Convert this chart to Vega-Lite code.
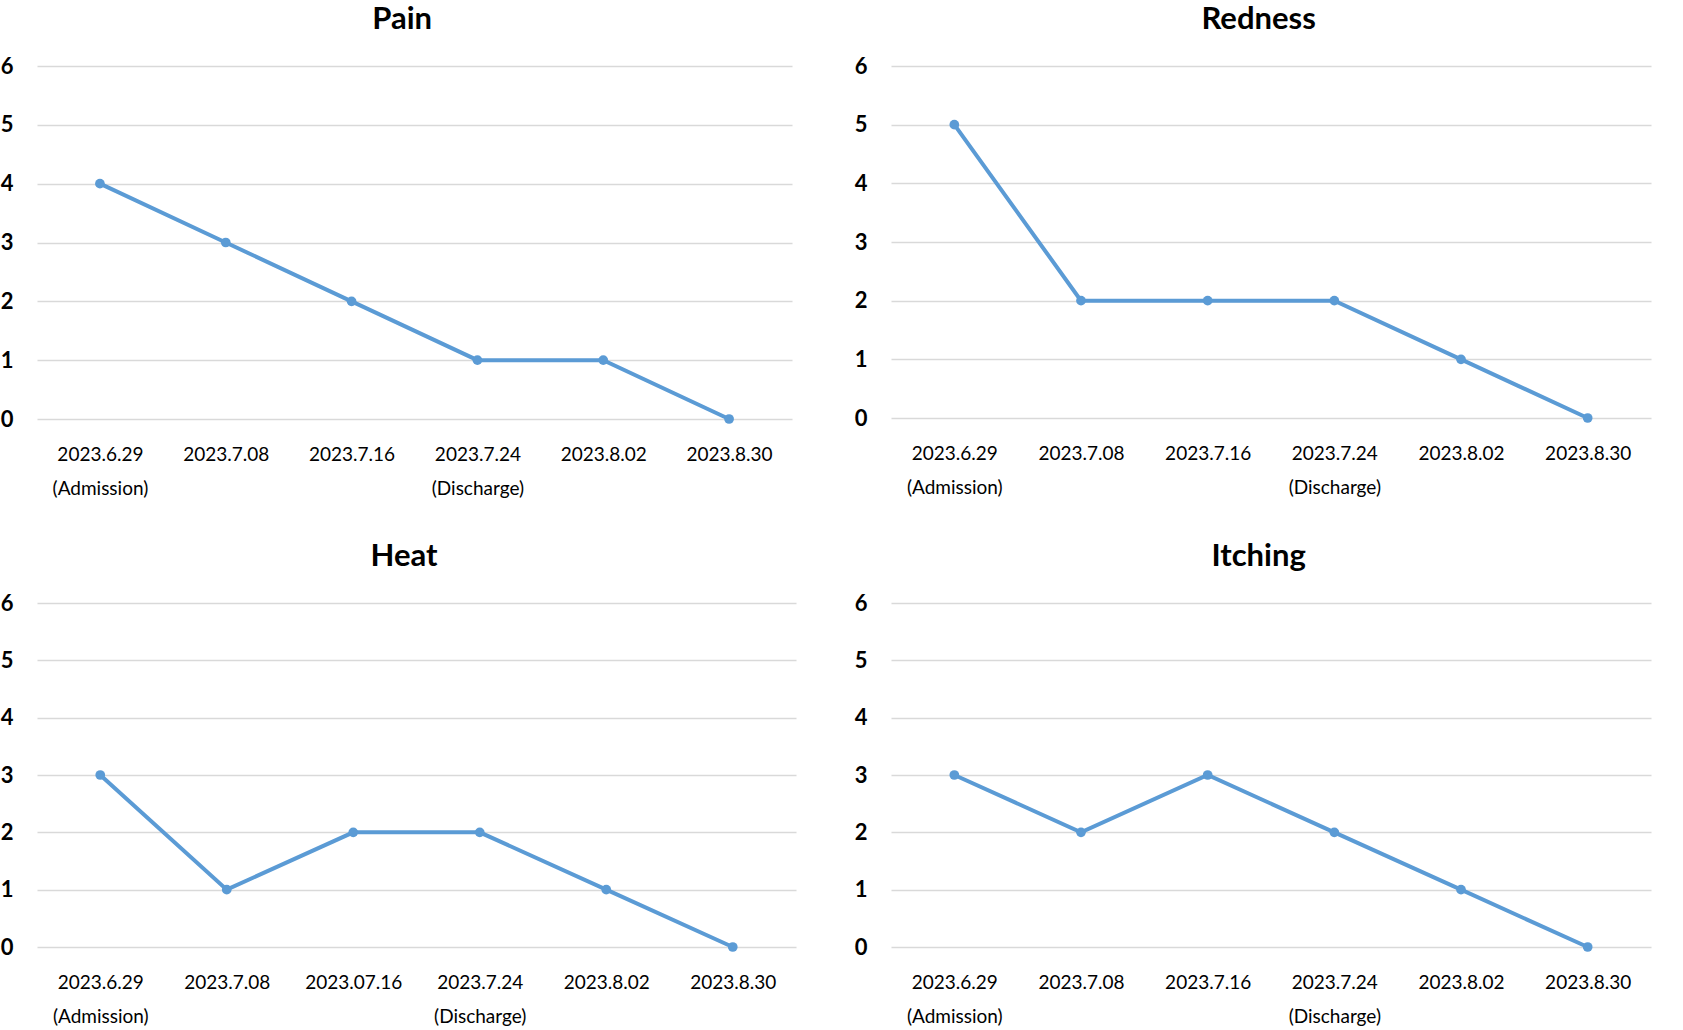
{
  "$schema": "https://vega.github.io/schema/vega-lite/v6.json",
  "padding": {"left": 0, "top": 4, "right": 5, "bottom": 0},
  "background": "white",
  "data": {"values": [
    {"panel": "Pain", "date": "2023.6.29 (Admission)", "value": 4},
    {"panel": "Pain", "date": "2023.7.08", "value": 3},
    {"panel": "Pain", "date": "2023.7.16", "value": 2},
    {"panel": "Pain", "date": "2023.7.24 (Discharge)", "value": 1},
    {"panel": "Pain", "date": "2023.8.02", "value": 1},
    {"panel": "Pain", "date": "2023.8.30", "value": 0},
    {"panel": "Redness", "date": "2023.6.29 (Admission)", "value": 5},
    {"panel": "Redness", "date": "2023.7.08", "value": 2},
    {"panel": "Redness", "date": "2023.7.16", "value": 2},
    {"panel": "Redness", "date": "2023.7.24 (Discharge)", "value": 2},
    {"panel": "Redness", "date": "2023.8.02", "value": 1},
    {"panel": "Redness", "date": "2023.8.30", "value": 0},
    {"panel": "Heat", "date": "2023.6.29 (Admission)", "value": 3},
    {"panel": "Heat", "date": "2023.7.08", "value": 1},
    {"panel": "Heat", "date": "2023.07.16", "value": 2},
    {"panel": "Heat", "date": "2023.7.24 (Discharge)", "value": 2},
    {"panel": "Heat", "date": "2023.8.02", "value": 1},
    {"panel": "Heat", "date": "2023.8.30", "value": 0},
    {"panel": "Itching", "date": "2023.6.29 (Admission)", "value": 3},
    {"panel": "Itching", "date": "2023.7.08", "value": 2},
    {"panel": "Itching", "date": "2023.7.16", "value": 3},
    {"panel": "Itching", "date": "2023.7.24 (Discharge)", "value": 2},
    {"panel": "Itching", "date": "2023.8.02", "value": 1},
    {"panel": "Itching", "date": "2023.8.30", "value": 0}
  ]},
  "columns": 2,
  "spacing": {"row": 43, "column": 58},
  "concat": [
    {
      "title": {"text": "Pain"},
      "width": 755, "height": 353,
      "transform": [{"filter": "datum.panel === 'Pain'"}],
      "mark": {"type": "line", "color": "#5B9BD5", "strokeWidth": 4, "point": {"filled": true, "size": 95, "color": "#5B9BD5"}},
      "encoding": {
        "x": {"field": "date", "type": "ordinal", "sort": null, "scale": {"type": "point", "padding": 0.5}, "axis": {"labelExpr": "split(datum.label, ' ')"}},
        "y": {"field": "value", "type": "quantitative", "scale": {"domain": [0, 6]}, "axis": {"values": [0, 1, 2, 3, 4, 5, 6]}}
      }
    },
    {
      "title": {"text": "Redness"},
      "width": 760, "height": 352,
      "transform": [{"filter": "datum.panel === 'Redness'"}],
      "mark": {"type": "line", "color": "#5B9BD5", "strokeWidth": 4, "point": {"filled": true, "size": 95, "color": "#5B9BD5"}},
      "encoding": {
        "x": {"field": "date", "type": "ordinal", "sort": null, "scale": {"type": "point", "padding": 0.5}, "axis": {"labelExpr": "split(datum.label, ' ')"}},
        "y": {"field": "value", "type": "quantitative", "scale": {"domain": [0, 6]}, "axis": {"values": [0, 1, 2, 3, 4, 5, 6]}}
      }
    },
    {
      "title": {"text": "Heat"},
      "width": 759, "height": 344,
      "transform": [{"filter": "datum.panel === 'Heat'"}],
      "mark": {"type": "line", "color": "#5B9BD5", "strokeWidth": 4, "point": {"filled": true, "size": 95, "color": "#5B9BD5"}},
      "encoding": {
        "x": {"field": "date", "type": "ordinal", "sort": null, "scale": {"type": "point", "padding": 0.5}, "axis": {"labelExpr": "split(datum.label, ' ')"}},
        "y": {"field": "value", "type": "quantitative", "scale": {"domain": [0, 6]}, "axis": {"values": [0, 1, 2, 3, 4, 5, 6]}}
      }
    },
    {
      "title": {"text": "Itching"},
      "width": 760, "height": 344,
      "transform": [{"filter": "datum.panel === 'Itching'"}],
      "mark": {"type": "line", "color": "#5B9BD5", "strokeWidth": 4, "point": {"filled": true, "size": 95, "color": "#5B9BD5"}},
      "encoding": {
        "x": {"field": "date", "type": "ordinal", "sort": null, "scale": {"type": "point", "padding": 0.5}, "axis": {"labelExpr": "split(datum.label, ' ')"}},
        "y": {"field": "value", "type": "quantitative", "scale": {"domain": [0, 6]}, "axis": {"values": [0, 1, 2, 3, 4, 5, 6]}}
      }
    }
  ],
  "config": {
    "font": "Lato",
    "view": {"stroke": null},
    "title": {"fontSize": 31, "fontWeight": "bold", "color": "#000000", "anchor": "middle", "frame": "bounds", "offset": 19, "dx": 6, "font": "Lato"},
    "axisX": {"title": null, "domain": false, "ticks": false, "grid": false, "labelAngle": 0, "labelFontSize": 19, "labelColor": "#000000", "labelPadding": 26, "labelLineHeight": 34, "labelFont": "Lato"},
    "axisY": {"title": null, "domain": false, "ticks": false, "grid": true, "gridColor": "#D9D9D9", "gridWidth": 1.5, "labelFontSize": 22, "labelFontWeight": "bold", "labelColor": "#000000", "labelPadding": 24, "labelFont": "Lato"}
  }
}
